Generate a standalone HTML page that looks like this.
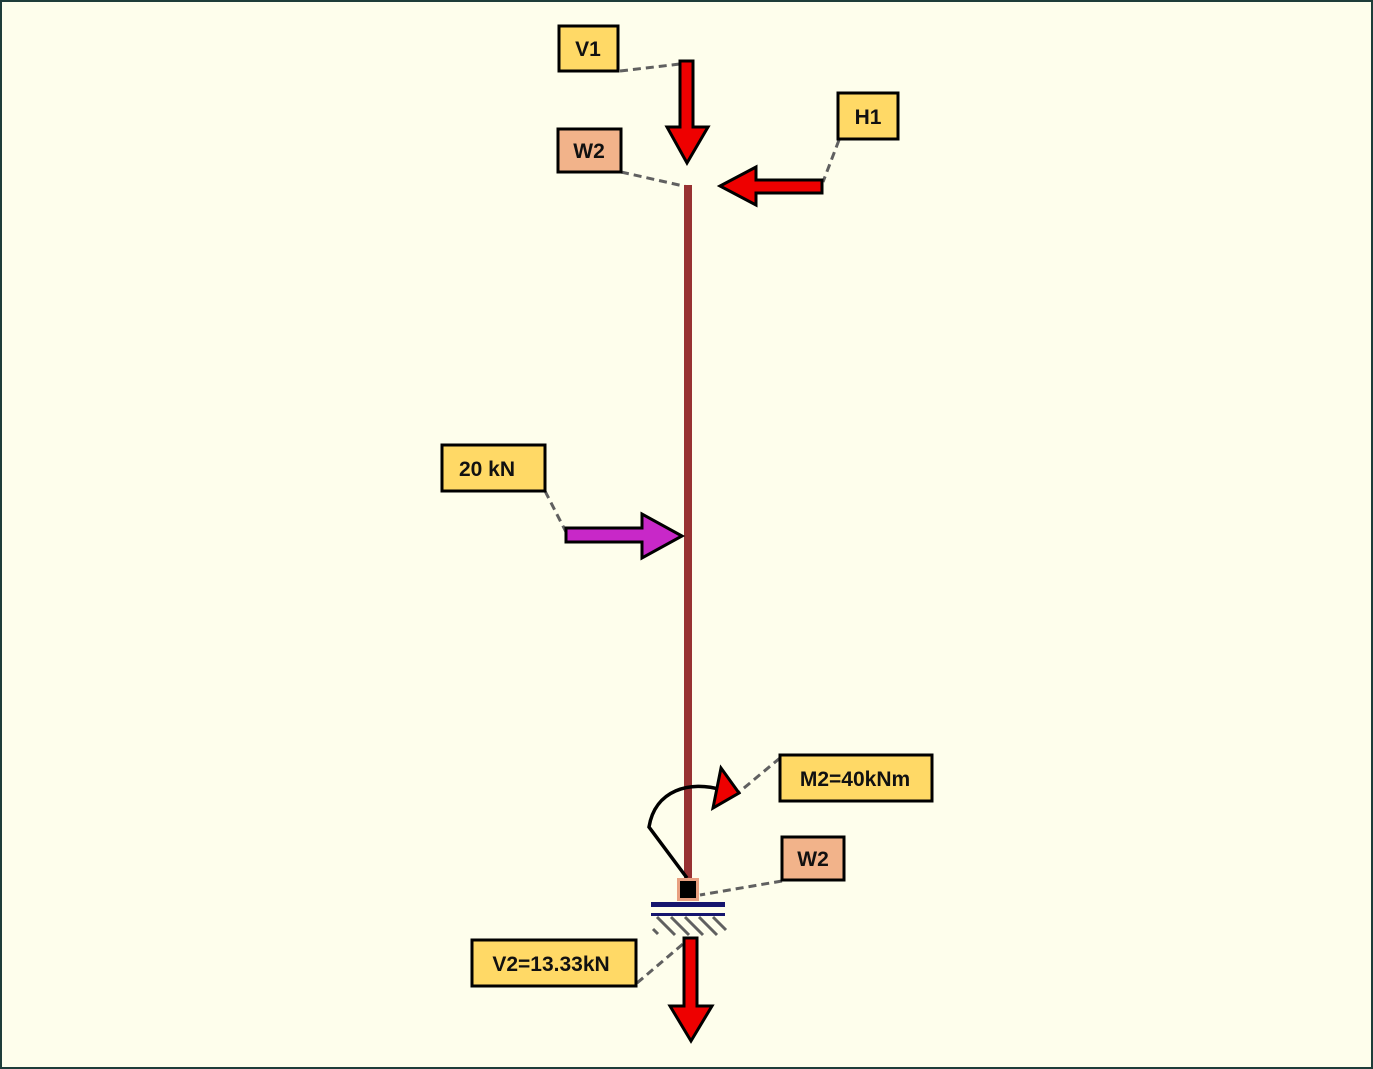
<!DOCTYPE html>
<html><head><meta charset="utf-8"><style>
html,body{margin:0;padding:0;background:#fefeec;}
svg{display:block}
text{font-family:"Liberation Sans",sans-serif;font-weight:bold;font-size:21px;fill:#111;}
</style></head><body>
<svg width="1373" height="1069" viewBox="0 0 1373 1069">
<rect x="1" y="1" width="1371" height="1067" fill="#fefeec" stroke="#1e3d3a" stroke-width="2"/>
<g stroke="#606060" stroke-width="3" stroke-dasharray="8,5" fill="none">
<line x1="620" y1="71" x2="680" y2="64"/>
<line x1="621" y1="172" x2="688" y2="187"/>
<line x1="839" y1="140" x2="823" y2="182"/>
<line x1="545" y1="491" x2="566" y2="532"/>
<line x1="780" y1="758" x2="738" y2="793"/>
<line x1="782" y1="881" x2="700" y2="895"/>
<line x1="637" y1="983" x2="690" y2="938"/>
</g>
<rect x="684" y="185" width="8" height="695" fill="#983232"/>
<polygon points="680,61 693,61 693,127 708,127 687,163 667,127 680,127" fill="#ee0000" stroke="#000" stroke-width="3"/>
<polygon points="822,180 822,193 756,193 756,205 720,186 756,167 756,180" fill="#ee0000" stroke="#000" stroke-width="3"/>
<polygon points="566,528 642,528 642,514 682,536 642,558 642,542 566,542" fill="#c828c8" stroke="#000" stroke-width="3"/>
<path d="M687 878 L649 827 C655 790 690 780 722 790" fill="none" stroke="#000" stroke-width="3.5"/>
<polygon points="721,768 739,793 713,808" fill="#ee0000" stroke="#000" stroke-width="3"/>
<rect x="677" y="878" width="22" height="23" fill="#e8a080"/>
<rect x="680" y="881" width="16" height="17" fill="#000"/>
<rect x="651" y="902" width="74" height="5" fill="#15156e"/>
<rect x="651" y="913" width="74" height="3" fill="#15156e"/>
<g stroke="#606060" stroke-width="3">
<line x1="653" y1="929" x2="658" y2="934"/>
<line x1="657" y1="917" x2="675" y2="935"/>
<line x1="671" y1="917" x2="689" y2="935"/>
<line x1="685" y1="917" x2="703" y2="935"/>
<line x1="699" y1="917" x2="717" y2="935"/>
<line x1="713" y1="917" x2="726" y2="930"/>
</g>
<polygon points="684,938 697,938 697,1006 712,1006 691,1041 670,1006 684,1006" fill="#ee0000" stroke="#000" stroke-width="3"/>
<g stroke="#000" stroke-width="3">
<rect x="559" y="26" width="59" height="45" fill="#ffd966"/>
<rect x="558" y="129" width="63" height="43" fill="#f2b38a"/>
<rect x="838" y="93" width="60" height="46" fill="#ffd966"/>
<rect x="442" y="445" width="103" height="46" fill="#ffd966"/>
<rect x="780" y="755" width="152" height="46" fill="#ffd966"/>
<rect x="782" y="837" width="62" height="43" fill="#f2b38a"/>
<rect x="472" y="940" width="164" height="46" fill="#ffd966"/>
</g>
<text x="588" y="56" text-anchor="middle">V1</text>
<text x="589" y="158" text-anchor="middle">W2</text>
<text x="868" y="124" text-anchor="middle">H1</text>
<text x="487" y="476" text-anchor="middle">20 kN</text>
<text x="855" y="786" text-anchor="middle">M2=40kNm</text>
<text x="813" y="866" text-anchor="middle">W2</text>
<text x="551" y="971" text-anchor="middle">V2=13.33kN</text>
</svg>
</body></html>
